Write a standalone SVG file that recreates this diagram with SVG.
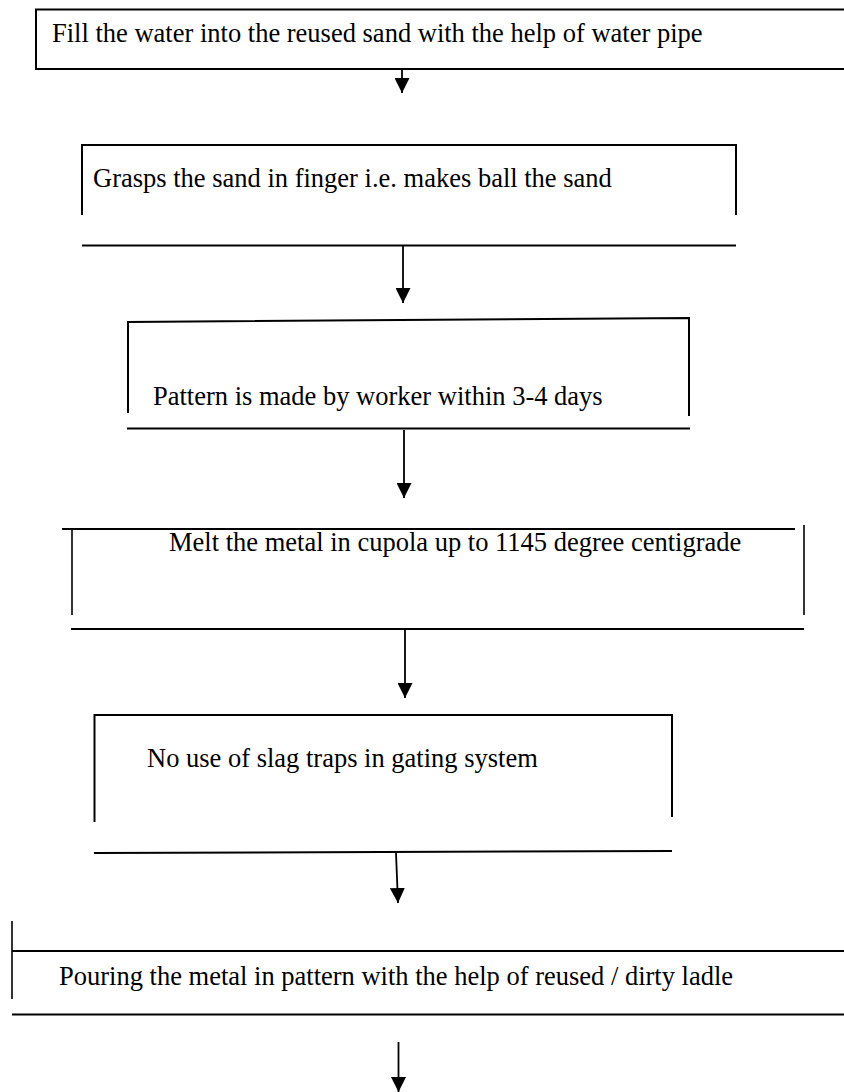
<svg xmlns="http://www.w3.org/2000/svg" width="844" height="1092" viewBox="0 0 844 1092">
  <style>
    .edge { fill: none; stroke: #000; stroke-width: 2; }
    .side { fill: none; stroke: #000; stroke-width: 1.6; }
    .lbl { font-family: "Liberation Serif", "Times New Roman", serif; font-size: 26.5px; fill: #000; }
    .conn { fill: none; stroke: #000; stroke-width: 1.8; }
  </style>
  <defs>
    <marker id="ah" viewBox="0 0 15 15" refX="15" refY="7.5" markerWidth="15" markerHeight="15" markerUnits="userSpaceOnUse" orient="auto">
      <path d="M0,0 L15,7.5 L0,15 z" fill="#000"/>
    </marker>
  </defs>
  <rect width="844" height="1092" fill="#fff"/>

  <g id="node1">
    <path class="edge" d="M850,9.5 H36 V69 H850"/>
    <text class="lbl" x="52" y="42">Fill the water into the reused sand with the help of water pipe</text>
  </g>

  <g id="node2">
    <path class="edge" d="M82,215 V145 H736 V215"/>
    <line class="edge" x1="82" y1="245.5" x2="736" y2="245.5"/>
    <text class="lbl" x="93" y="187">Grasps the sand in finger i.e. makes ball the sand</text>
  </g>

  <g id="node3">
    <path class="edge" d="M128,413 V322 L689,318 V416"/>
    <line class="edge" x1="127" y1="428.5" x2="690" y2="428.5"/>
    <text class="lbl" x="153" y="405">Pattern is made by worker within 3-4 days</text>
  </g>

  <g id="node4">
    <line class="edge" x1="62" y1="529" x2="795" y2="529"/>
    <line class="side" x1="72" y1="528" x2="72" y2="615"/>
    <line class="side" x1="804" y1="525" x2="804" y2="615"/>
    <line class="edge" x1="71" y1="629" x2="804" y2="629"/>
    <text class="lbl" x="169" y="551">Melt the metal in cupola up to 1145 degree centigrade</text>
  </g>

  <g id="node5">
    <path class="edge" d="M94.5,822 V715 H672 V817"/>
    <line class="edge" x1="94" y1="853" x2="672" y2="851"/>
    <text class="lbl" x="147" y="767">No use of slag traps in gating system</text>
  </g>

  <g id="node6">
    <line class="side" x1="12" y1="921" x2="12" y2="999"/>
    <line class="edge" x1="12" y1="951" x2="850" y2="951"/>
    <line class="edge" x1="12" y1="1014.5" x2="850" y2="1014.5"/>
    <text class="lbl" x="59" y="985">Pouring the metal in pattern with the help of reused / dirty ladle</text>
  </g>

  <g id="connectors">
    <line class="conn" x1="402" y1="69" x2="402" y2="93" marker-end="url(#ah)"/>
    <line class="conn" x1="403" y1="246" x2="403" y2="303" marker-end="url(#ah)"/>
    <line class="conn" x1="404" y1="430" x2="404" y2="498" marker-end="url(#ah)"/>
    <line class="conn" x1="405" y1="629" x2="405" y2="698" marker-end="url(#ah)"/>
    <line class="conn" x1="396" y1="853" x2="398" y2="903" marker-end="url(#ah)"/>
    <line class="conn" x1="398.5" y1="1042" x2="398.5" y2="1092" marker-end="url(#ah)"/>
  </g>
</svg>
